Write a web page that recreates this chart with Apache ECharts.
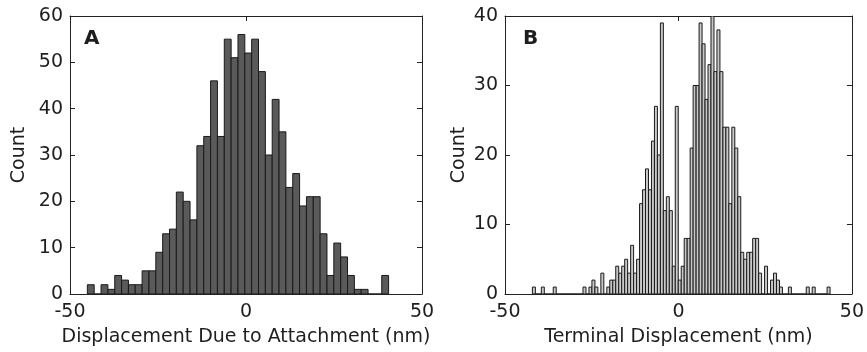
<!DOCTYPE html>
<html><head><meta charset="utf-8">
<script src="https://cdn.jsdelivr.net/npm/echarts@6/dist/echarts.min.js"></script>
<style>html,body{margin:0;padding:0;background:#fff}#c{width:867px;height:352px}</style>
</head><body><div id="c"></div>
<script>
// Panel A: 44 bins
const countsA = [2,0,2,1,4,3,2,2,5,5,9,13,14,22,20,16,32,34,46,34,55,51,56,52,55,48,30,42,35,23,26,19,21,21,13,4,11,8,4,1,1,0,0,4];
const rangeA = [-45.07, 40.51];
// Panel B: 100 bins
const countsB = [1,0,0,1,0,0,0,1,0,0, 0,0,0,0,0,0,0,1,0,1, 2,1,0,3,0,1,2,2,4,3, 4,5,3,7,3,5,13,15,18,15, 22,27,20,39,12,14,12,4,27,2, 4,8,8,21,30,30,39,36,28,33, 40,32,38,32,24,24,13,24,21,14, 6,5,6,6,8,8,3,0,4,0, 2,3,2,1,0,0,1,0,0,0, 0,0,1,0,1,0,0,0,0,1];
const rangeB = [-42.1, 43.7];
const xRange = [-50, 50];
const xStep = 50;
const yMaxA = 60, yMaxB = 40, yStep = 10;
const xNames = ['Displacement Due to Attachment (nm)', 'Terminal Displacement (nm)'];
const yName = 'Count';
const letters = ['A', 'B'];

function bins(counts, range) {
  const w = (range[1] - range[0]) / counts.length;
  return counts.map((c, i) => [range[0] + i * w, range[0] + (i + 1) * w, c]);
}
function hist(fill) {
  return function (params, api) {
    const p0 = api.coord([api.value(0), api.value(2)]);
    const p1 = api.coord([api.value(1), 0]);
    return {type: 'rect', shape: {x: p0[0], y: p0[1], width: p1[0] - p0[0], height: p1[1] - p0[1]},
      style: {fill: fill, stroke: '#1a1a1a', lineWidth: 1}};
  };
}
const FONT = 'DejaVu Sans, sans-serif';
const TXT = '#1e1e1e';
const FS = 19;
function xAx(g, name) {
  return [
    {gridIndex: g, type: 'value', min: xRange[0], max: xRange[1], interval: xStep, position: 'bottom',
     axisLine: {show: true, onZero: false, lineStyle: {color: '#222', width: 1}},
     axisTick: {show: true, inside: true, length: 5, lineStyle: {color: '#222'}},
     axisLabel: {fontSize: FS, color: TXT, fontFamily: FONT, margin: 9, showMinLabel: true, showMaxLabel: true},
     splitLine: {show: false},
     name: name, nameLocation: 'middle', nameGap: 34,
     nameTextStyle: {fontSize: FS, color: TXT, fontFamily: FONT}},
    {gridIndex: g, type: 'value', min: xRange[0], max: xRange[1], interval: xStep, position: 'top',
     axisLine: {show: true, onZero: false, lineStyle: {color: '#222', width: 1}},
     axisTick: {show: true, inside: true, length: 5, lineStyle: {color: '#222'}},
     axisLabel: {show: false}, splitLine: {show: false}}
  ];
}
function yAx(g, max, gap) {
  return [
    {gridIndex: g, type: 'value', min: 0, max: max, interval: yStep, position: 'left',
     axisLine: {show: true, onZero: false, lineStyle: {color: '#222', width: 1}},
     axisTick: {show: true, inside: true, length: 5, lineStyle: {color: '#222'}},
     axisLabel: {fontSize: FS, color: TXT, fontFamily: FONT, margin: 7, showMinLabel: true, showMaxLabel: true},
     splitLine: {show: false},
     name: yName, nameLocation: 'middle', nameGap: gap,
     nameTextStyle: {fontSize: FS, color: TXT, fontFamily: FONT}},
    {gridIndex: g, type: 'value', min: 0, max: max, interval: yStep, position: 'right',
     axisLine: {show: true, onZero: false, lineStyle: {color: '#222', width: 1}},
     axisTick: {show: true, inside: true, length: 5, lineStyle: {color: '#222'}},
     axisLabel: {show: false}, splitLine: {show: false}}
  ];
}
const chart = echarts.init(document.getElementById('c'), null, {renderer: 'canvas'});
chart.setOption({
  backgroundColor: '#fff',
  animation: false,
  grid: [
    {left: 70, top: 16, width: 352, height: 278},
    {left: 505, top: 16, width: 351, height: 278}
  ],
  xAxis: [...xAx(0, xNames[0]), ...xAx(1, xNames[1])],
  yAxis: [...yAx(0, yMaxA, 41), ...yAx(1, yMaxB, 36)],
  series: [
    {type: 'custom', xAxisIndex: 0, yAxisIndex: 0, renderItem: hist('#5a5a5a'), data: bins(countsA, rangeA), clip: true},
    {type: 'custom', xAxisIndex: 2, yAxisIndex: 2, renderItem: hist('#c8c8c8'), data: bins(countsB, rangeB), clip: true}
  ],
  graphic: [
    {type: 'text', left: 84, top: 29, style: {text: letters[0], fontSize: 20, fontWeight: 'bold', fill: TXT, fontFamily: FONT}},
    {type: 'text', left: 523, top: 29, style: {text: letters[1], fontSize: 20, fontWeight: 'bold', fill: TXT, fontFamily: FONT}}
  ]
});
</script></body></html>
